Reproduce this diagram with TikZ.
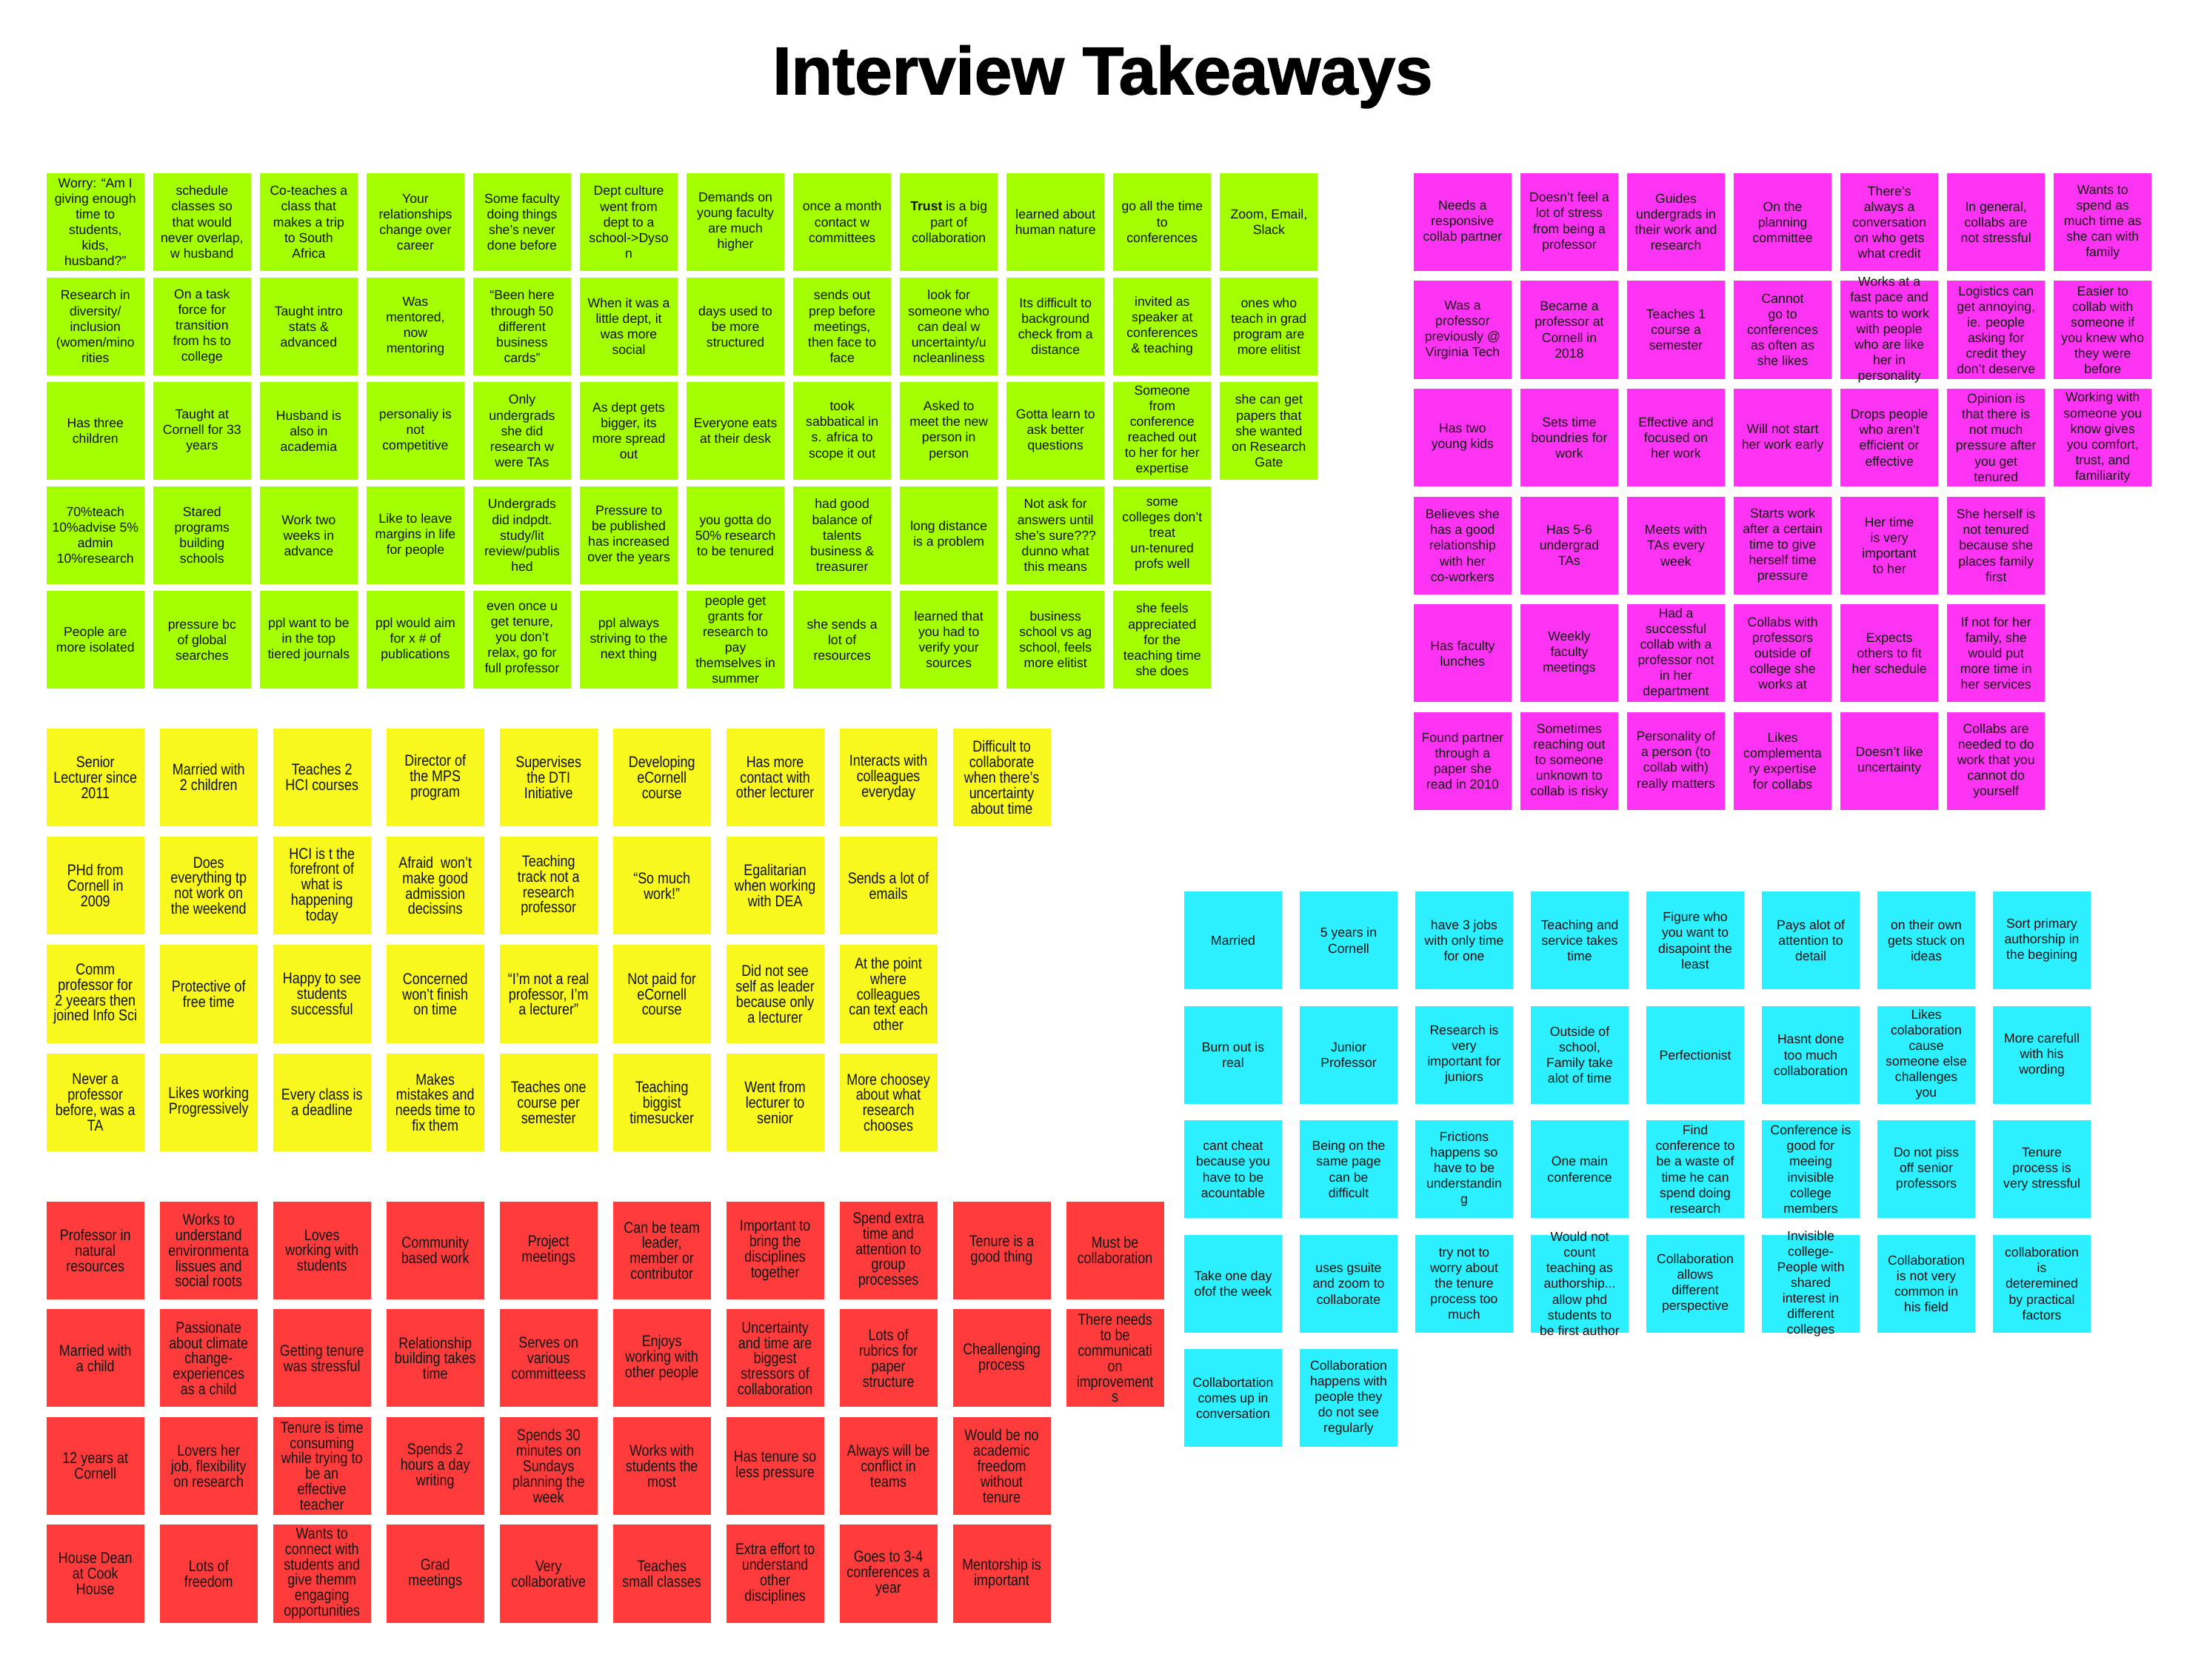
\documentclass[tikz,border=0pt]{standalone}
\usepackage{fontspec}
\setmainfont{Liberation Sans}
\newfontfamily\notefont{Liberation Sans}
\newfontfamily\narrowfont[FakeStretch=0.85]{Liberation Sans}
\newfontfamily\titlefont[BoldFeatures={FakeBold=1.6}]{Liberation Sans}
\definecolor{clime}{HTML}{A4FF00}
\definecolor{cpink}{HTML}{FF33F4}
\definecolor{cyell}{HTML}{F8F81E}
\definecolor{cred}{HTML}{FF3B3B}
\definecolor{ccyan}{HTML}{2CF0FF}
\definecolor{cink}{HTML}{111111}
\tikzset{
  note/.style={fill=#1, minimum width=1.74cm, minimum height=1.74cm, inner sep=0pt},
  notetext/.style={align=center, text=cink, inner sep=0pt, font=\notefont\fontsize{6.6}{7.9}\selectfont},
  narrowtext/.style={notetext, font=\narrowfont\fontsize{7.9}{7.8}\selectfont},
  title/.style={font=\titlefont\bfseries\fontsize{34}{40}\selectfont, text=black},
}

\begin{document}
\begin{tikzpicture}[x=0.025cm, y=-0.025cm]
  \useasboundingbox[fill=white] (0,0) rectangle (1568,1195);
  \node[title, anchor=base] (title) at (784.5,67) {Interview Takeaways};

  % green wall
  \foreach \txt [count=\col] in {{Worry: “Am I\\giving enough\\time to\\students,\\kids,\\husband?”},{schedule\\classes so\\that would\\never overlap,\\w husband},{Co-teaches a\\class that\\makes a trip\\to South\\Africa},{Your\\relationships\\change over\\career},{Some faculty\\doing things\\she’s never\\done before},{Dept culture\\went from\\dept to a\\school->Dyso\\n},{Demands on\\young faculty\\are much\\higher},{once a month\\contact w\\committees},{\textbf{Trust} is a big\\part of\\collaboration},{learned about\\human nature},{go all the time\\to\\conferences},{Zoom, Email,\\Slack}}
    \node[note=clime, label={[notetext]center:\txt}] (green-1-\col) at ({67.85+75.9*(\col-1)},157.95) {};
  \foreach \txt [count=\col] in {{Research in\\diversity/\\inclusion\\(women/mino\\rities},{On a task\\force for\\transition\\from hs to\\college},{Taught intro\\stats \&\\advanced},{Was\\mentored,\\now\\mentoring},{“Been here\\through 50\\different\\business\\cards”},{When it was a\\little dept, it\\was more\\social},{days used to\\be more\\structured},{sends out\\prep before\\meetings,\\then face to\\face},{look for\\someone who\\can deal w\\uncertainty/u\\ncleanliness},{Its difficult to\\background\\check from a\\distance},{invited as\\speaker at\\conferences\\\& teaching},{ones who\\teach in grad\\program are\\more elitist}}
    \node[note=clime, label={[notetext]center:\txt}] (green-2-\col) at ({67.85+75.9*(\col-1)},232.25) {};
  \foreach \txt [count=\col] in {{Has three\\children},{Taught at\\Cornell for 33\\years},{Husband is\\also in\\academia},{personaliy is\\not\\competitive},{Only\\undergrads\\she did\\research w\\were TAs},{As dept gets\\bigger, its\\more spread\\out},{Everyone eats\\at their desk},{took\\sabbatical in\\s. africa to\\scope it out},{Asked to\\meet the new\\person in\\person},{Gotta learn to\\ask better\\questions},{Someone\\from\\conference\\reached out\\to her for her\\expertise},{she can get\\papers that\\she wanted\\on Research\\Gate}}
    \node[note=clime, label={[notetext]center:\txt}] (green-3-\col) at ({67.85+75.9*(\col-1)},306.55) {};
  \foreach \txt [count=\col] in {{70\%teach\\10\%advise 5\%\\admin\\10\%research},{Stared\\programs\\building\\schools},{Work two\\weeks in\\advance},{Like to leave\\margins in life\\for people},{Undergrads\\did indpdt.\\study/lit\\review/publis\\hed},{Pressure to\\be published\\has increased\\over the years},{you gotta do\\50\% research\\to be tenured},{had good\\balance of\\talents\\business \&\\treasurer},{long distance\\is a problem},{Not ask for\\answers until\\she’s sure???\\dunno what\\this means},{some\\colleges don’t\\treat\\un-tenured\\profs well}}
    \node[note=clime, label={[notetext]center:\txt}] (green-4-\col) at ({67.85+75.9*(\col-1)},380.85) {};
  \foreach \txt [count=\col] in {{People are\\more isolated},{pressure bc\\of global\\searches},{ppl want to be\\in the top\\tiered journals},{ppl would aim\\for x \# of\\publications},{even once u\\get tenure,\\you don’t\\relax, go for\\full professor},{ppl always\\striving to the\\next thing},{people get\\grants for\\research to\\pay\\themselves in\\summer},{she sends a\\lot of\\resources},{learned that\\you had to\\verify your\\sources},{business\\school vs ag\\school, feels\\more elitist},{she feels\\appreciated\\for the\\teaching time\\she does}}
    \node[note=clime, label={[notetext]center:\txt}] (green-5-\col) at ({67.85+75.9*(\col-1)},455.15) {};

  % pink wall
  \foreach \txt [count=\col] in {{Needs a\\responsive\\collab partner},{Doesn’t feel a\\lot of stress\\from being a\\professor},{Guides\\undergrads in\\their work and\\research},{On the\\planning\\committee},{There’s\\always a\\conversation\\on who gets\\what credit},{In general,\\collabs are\\not stressful},{Wants to\\spend as\\much time as\\she can with\\family}}
    \node[note=cpink, label={[notetext]center:\txt}] (pink-1-\col) at ({1040.55+75.9*(\col-1)},158.05) {};
  \foreach \txt [count=\col] in {{Was a\\professor\\previously @\\Virginia Tech},{Became a\\professor at\\Cornell in\\2018},{Teaches 1\\course a\\semester},{Cannot\\go to\\conferences\\as often as\\she likes},{Works at a\\fast pace and\\wants to work\\with people\\who are like\\her in\\personality},{Logistics can\\get annoying,\\ie. people\\asking for\\credit they\\don’t deserve},{Easier to\\collab with\\someone if\\you knew who\\they were\\before}}
    \node[note=cpink, label={[notetext]center:\txt}] (pink-2-\col) at ({1040.55+75.9*(\col-1)},234.75) {};
  \foreach \txt [count=\col] in {{Has two\\young kids},{Sets time\\boundries for\\work},{Effective and\\focused on\\her work},{Will not start\\her work early},{Drops people\\who aren’t\\efficient or\\effective},{Opinion is\\that there is\\not much\\pressure after\\you get\\tenured},{Working with\\someone you\\know gives\\you comfort,\\trust, and\\familiarity}}
    \node[note=cpink, label={[notetext]center:\txt}] (pink-3-\col) at ({1040.55+75.9*(\col-1)},311.45) {};
  \foreach \txt [count=\col] in {{Believes she\\has a good\\relationship\\with her\\co-workers},{Has 5-6\\undergrad\\TAs},{Meets with\\TAs every\\week},{Starts work\\after a certain\\time to give\\herself time\\pressure},{Her time\\is very\\important\\to her},{She herself is\\not tenured\\because she\\places family\\first}}
    \node[note=cpink, label={[notetext]center:\txt}] (pink-4-\col) at ({1040.55+75.9*(\col-1)},388.15) {};
  \foreach \txt [count=\col] in {{Has faculty\\lunches},{Weekly\\faculty\\meetings},{Had a\\successful\\collab with a\\professor not\\in her\\department},{Collabs with\\professors\\outside of\\college she\\works at},{Expects\\others to fit\\her schedule},{If not for her\\family, she\\would put\\more time in\\her services}}
    \node[note=cpink, label={[notetext]center:\txt}] (pink-5-\col) at ({1040.55+75.9*(\col-1)},464.85) {};
  \foreach \txt [count=\col] in {{Found partner\\through a\\paper she\\read in 2010},{Sometimes\\reaching out\\to someone\\unknown to\\collab is risky},{Personality of\\a person (to\\collab with)\\really matters},{Likes\\complementa\\ry expertise\\for collabs},{Doesn’t like\\uncertainty},{Collabs are\\needed to do\\work that you\\cannot do\\yourself}}
    \node[note=cpink, label={[notetext]center:\txt}] (pink-6-\col) at ({1040.55+75.9*(\col-1)},541.55) {};

  % yellow wall
  \foreach \txt [count=\col] in {{Senior\\Lecturer since\\2011},{Married with\\2 children},{Teaches 2\\HCI courses},{Director of\\the MPS\\program},{Supervises\\the DTI\\Initiative},{Developing\\eCornell\\course},{Has more\\contact with\\other lecturer},{Interacts with\\colleagues\\everyday},{Difficult to\\collaborate\\when there’s\\uncertainty\\about time}}
    \node[note=cyell, label={[narrowtext]center:\txt}] (yellow-1-\col) at ({67.85+80.6*(\col-1)},553.15) {};
  \foreach \txt [count=\col] in {{PHd from\\Cornell in\\2009},{Does\\everything tp\\not work on\\the weekend},{HCI is t the\\forefront of\\what is\\happening\\today},{Afraid~ won’t\\make good\\admission\\decissins},{Teaching\\track not a\\research\\professor},{“So much\\work!”},{Egalitarian\\when working\\with DEA},{Sends a lot of\\emails}}
    \node[note=cyell, label={[narrowtext]center:\txt}] (yellow-2-\col) at ({67.85+80.6*(\col-1)},630.25) {};
  \foreach \txt [count=\col] in {{Comm\\professor for\\2 yeears then\\joined Info Sci},{Protective of\\free time},{Happy to see\\students\\successful},{Concerned\\won’t finish\\on time},{“I’m not a real\\professor, I’m\\a lecturer”},{Not paid for\\eCornell\\course},{Did not see\\self as leader\\because only\\a lecturer},{At the point\\where\\colleagues\\can text each\\other}}
    \node[note=cyell, label={[narrowtext]center:\txt}] (yellow-3-\col) at ({67.85+80.6*(\col-1)},707.35) {};
  \foreach \txt [count=\col] in {{Never a\\professor\\before, was a\\TA},{Likes working\\Progressively},{Every class is\\a deadline},{Makes\\mistakes and\\needs time to\\fix them},{Teaches one\\course per\\semester},{Teaching\\biggist\\timesucker},{Went from\\lecturer to\\senior},{More choosey\\about what\\research\\chooses}}
    \node[note=cyell, label={[narrowtext]center:\txt}] (yellow-4-\col) at ({67.85+80.6*(\col-1)},784.45) {};

  % red wall
  \foreach \txt [count=\col] in {{Professor in\\natural\\resources},{Works to\\understand\\environmenta\\lissues and\\social roots},{Loves\\working with\\students},{Community\\based work},{Project\\meetings},{Can be team\\leader,\\member or\\contributor},{Important to\\bring the\\disciplines\\together},{Spend extra\\time and\\attention to\\group\\processes},{Tenure is a\\good thing},{Must be\\collaboration}}
    \node[note=cred, label={[narrowtext]center:\txt}] (red-1-\col) at ({67.85+80.6*(\col-1)},889.75) {};
  \foreach \txt [count=\col] in {{Married with\\a child},{Passionate\\about climate\\change-\\experiences\\as a child},{Getting tenure\\was stressful},{Relationship\\building takes\\time},{Serves on\\various\\committeess},{Enjoys\\working with\\other people},{Uncertainty\\and time are\\biggest\\stressors of\\collaboration},{Lots of\\rubrics for\\paper\\structure},{Cheallenging\\process},{There needs\\to be\\communicati\\on\\improvement\\s}}
    \node[note=cred, label={[narrowtext]center:\txt}] (red-2-\col) at ({67.85+80.6*(\col-1)},966.45) {};
  \foreach \txt [count=\col] in {{12 years at\\Cornell},{Lovers her\\job, flexibility\\on research},{Tenure is time\\consuming\\while trying to\\be an\\effective\\teacher},{Spends 2\\hours a day\\writing},{Spends 30\\minutes on\\Sundays\\planning the\\week},{Works with\\students the\\most},{Has tenure so\\less pressure},{Always will be\\conflict in\\teams},{Would be no\\academic\\freedom\\without\\tenure}}
    \node[note=cred, label={[narrowtext]center:\txt}] (red-3-\col) at ({67.85+80.6*(\col-1)},1043.15) {};
  \foreach \txt [count=\col] in {{House Dean\\at Cook\\House},{Lots of\\freedom},{Wants to\\connect with\\students and\\give themm\\engaging\\opportunities},{Grad\\meetings},{Very\\collaborative},{Teaches\\small classes},{Extra effort to\\understand\\other\\disciplines},{Goes to 3-4\\conferences a\\year},{Mentorship is\\important}}
    \node[note=cred, label={[narrowtext]center:\txt}] (red-4-\col) at ({67.85+80.6*(\col-1)},1119.85) {};

  % cyan wall
  \foreach \txt [count=\col] in {{Married},{5 years in\\Cornell},{have 3 jobs\\with only time\\for one},{Teaching and\\service takes\\time},{Figure who\\you want to\\disapoint the\\least},{Pays alot of\\attention to\\detail},{on their own\\gets stuck on\\ideas},{Sort primary\\authorship in\\the begining}}
    \node[note=ccyan, label={[notetext]center:\txt}] (cyan-1-\col) at ({877.25+82.2*(\col-1)},669.25) {};
  \foreach \txt [count=\col] in {{Burn out is\\real},{Junior\\Professor},{Research is\\very\\important for\\juniors},{Outside of\\school,\\Family take\\alot of time},{Perfectionist},{Hasnt done\\too much\\collaboration},{Likes\\colaboration\\cause\\someone else\\challenges\\you},{More carefull\\with his\\wording}}
    \node[note=ccyan, label={[notetext]center:\txt}] (cyan-2-\col) at ({877.25+82.2*(\col-1)},750.65) {};
  \foreach \txt [count=\col] in {{cant cheat\\because you\\have to be\\acountable},{Being on the\\same page\\can be\\difficult},{Frictions\\happens so\\have to be\\understandin\\g},{One main\\conference},{Find\\conference to\\be a waste of\\time he can\\spend doing\\research},{Conference is\\good for\\meeing\\invisible\\college\\members},{Do not piss\\off senior\\professors},{Tenure\\process is\\very stressful}}
    \node[note=ccyan, label={[notetext]center:\txt}] (cyan-3-\col) at ({877.25+82.2*(\col-1)},832.05) {};
  \foreach \txt [count=\col] in {{Take one day\\ofof the week},{uses gsuite\\and zoom to\\collaborate},{try not to\\worry about\\the tenure\\process too\\much},{Would not\\count\\teaching as\\authorship.{}.{}.\\allow phd\\students to\\be first author},{Collaboration\\allows\\different\\perspective},{Invisible\\college-\\People with\\shared\\interest in\\different\\colleges},{Collaboration\\is not very\\common in\\his field},{collaboration\\is\\deteremined\\by practical\\factors}}
    \node[note=ccyan, label={[notetext]center:\txt}] (cyan-4-\col) at ({877.25+82.2*(\col-1)},913.45) {};
  \foreach \txt [count=\col] in {{Collabortation\\comes up in\\conversation},{Collaboration\\happens with\\people they\\do not see\\regularly}}
    \node[note=ccyan, label={[notetext]center:\txt}] (cyan-5-\col) at ({877.25+82.2*(\col-1)},994.85) {};
\end{tikzpicture}
\end{document}
